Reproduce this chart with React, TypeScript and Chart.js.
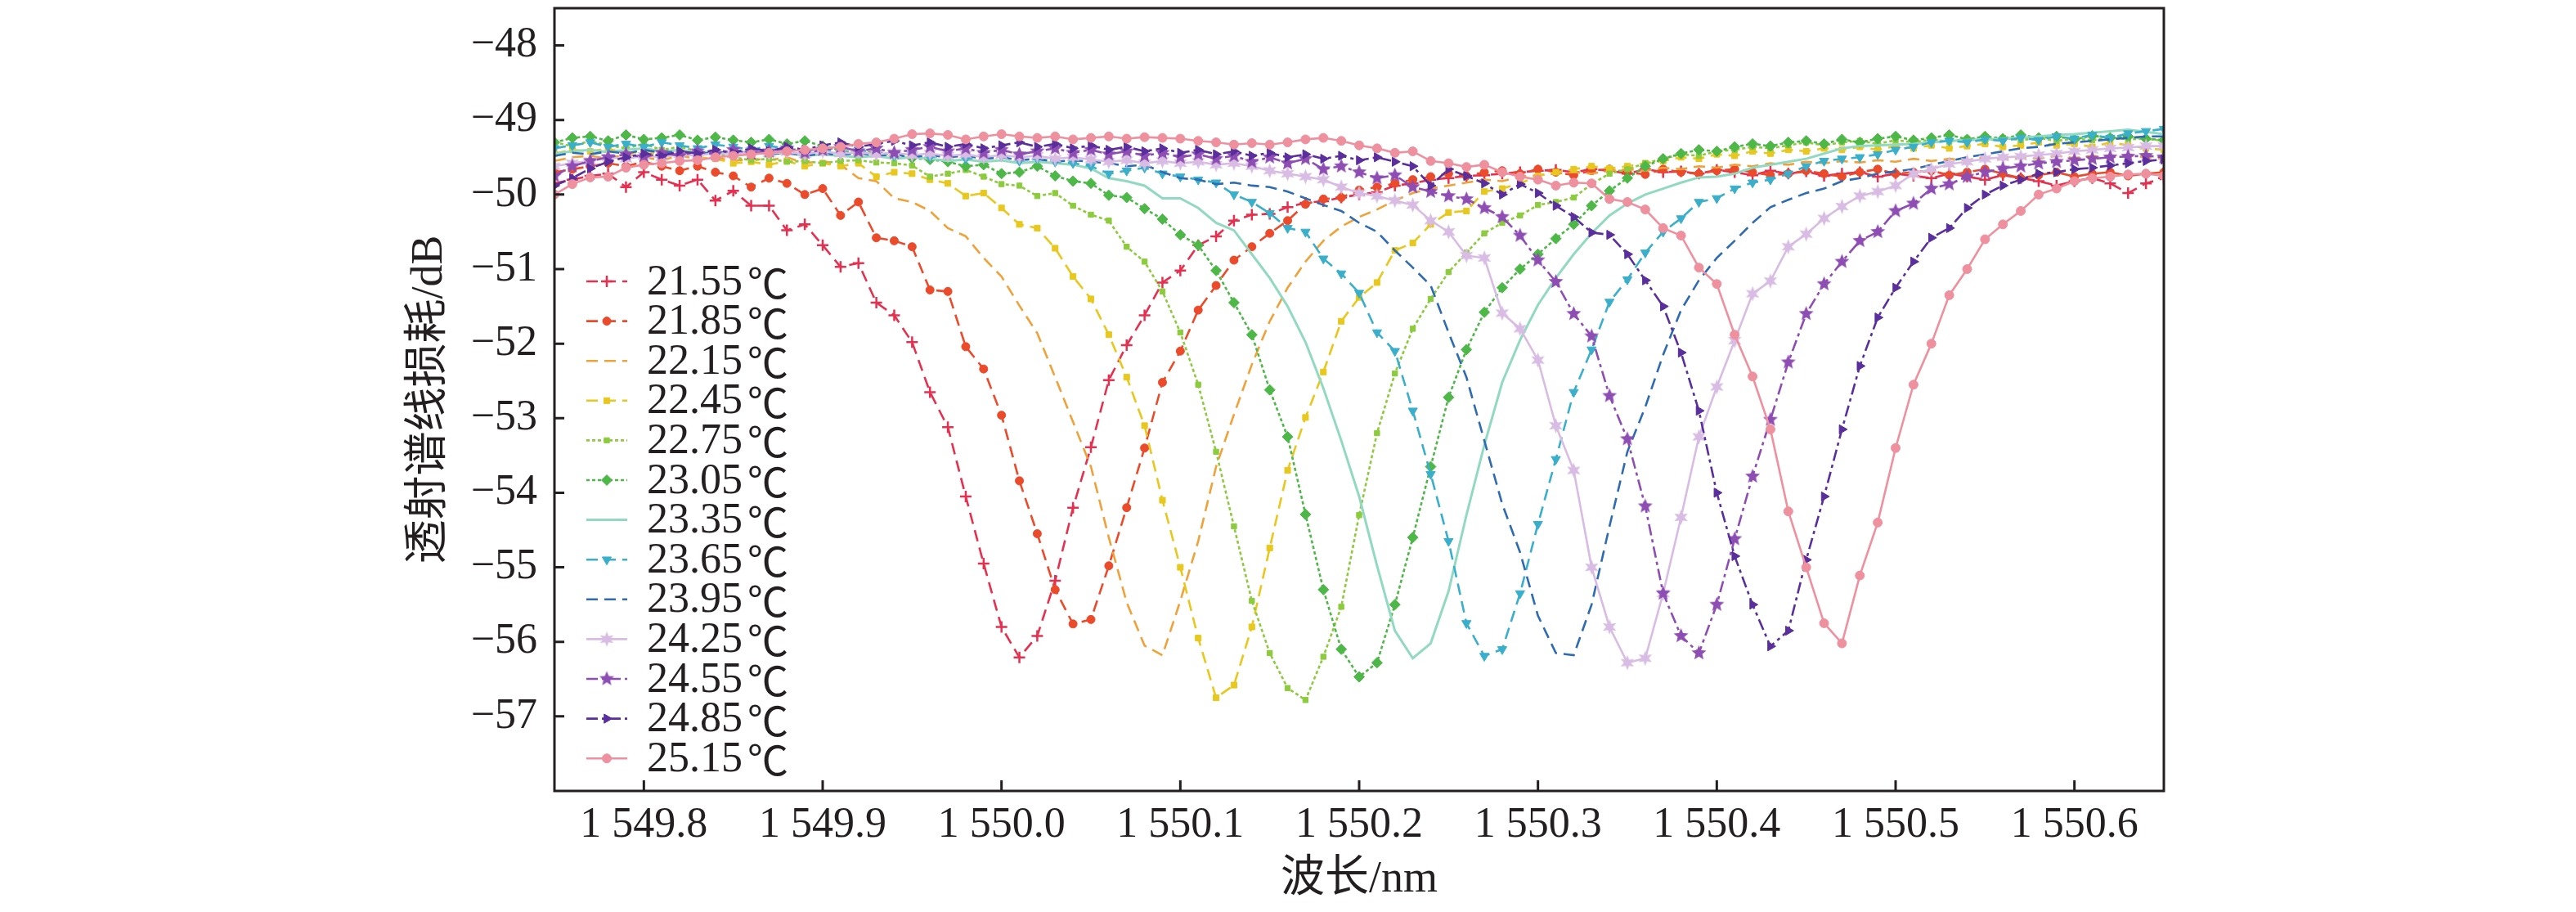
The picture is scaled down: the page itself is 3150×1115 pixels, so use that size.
import { useEffect, useRef } from "react";
import { Chart, registerables } from "chart.js";
import { drawPoint } from "chart.js/helpers";

Chart.register(...registerables);

// wavelength grid (nm), one value every 0.01 nm
const wavelengths = [
  1549.75, 1549.76, 1549.77, 1549.78, 1549.79, 1549.8, 1549.81, 1549.82, 1549.83, 1549.84,
  1549.85, 1549.86, 1549.87, 1549.88, 1549.89, 1549.9, 1549.91, 1549.92, 1549.93, 1549.94,
  1549.95, 1549.96, 1549.97, 1549.98, 1549.99, 1550.0, 1550.01, 1550.02, 1550.03, 1550.04,
  1550.05, 1550.06, 1550.07, 1550.08, 1550.09, 1550.1, 1550.11, 1550.12, 1550.13, 1550.14,
  1550.15, 1550.16, 1550.17, 1550.18, 1550.19, 1550.2, 1550.21, 1550.22, 1550.23, 1550.24,
  1550.25, 1550.26, 1550.27, 1550.28, 1550.29, 1550.3, 1550.31, 1550.32, 1550.33, 1550.34,
  1550.35, 1550.36, 1550.37, 1550.38, 1550.39, 1550.4, 1550.41, 1550.42, 1550.43, 1550.44,
  1550.45, 1550.46, 1550.47, 1550.48, 1550.49, 1550.5, 1550.51, 1550.52, 1550.53, 1550.54,
  1550.55, 1550.56, 1550.57, 1550.58, 1550.59, 1550.6, 1550.61, 1550.62, 1550.63, 1550.64,
  1550.65,
];

const temperatures = [
  "21.55", "21.85", "22.15", "22.45", "22.75", "23.05", "23.35",
  "23.65", "23.95", "24.25", "24.55", "24.85", "25.15",
];
const tempUnit = "℃";

// transmission loss (dB) per temperature
const t2155 = [
  -49.85, -49.8, -49.75, -49.72, -49.9, -49.7, -49.8, -49.88, -49.8, -50.08,
  -49.95, -50.15, -50.15, -50.48, -50.4, -50.68, -50.97, -50.92, -51.45, -51.62,
  -51.98, -52.65, -53.12, -54.05, -54.95, -55.8, -56.21, -55.92, -55.18, -54.2,
  -53.39, -52.49, -52.02, -51.62, -51.18, -51.02, -50.68, -50.56, -50.35, -50.27,
  -50.26, -50.17, -50.11, -50.09, -50.04, -50.0, -49.97, -49.88, -49.85, -49.8,
  -49.78, -49.75, -49.74, -49.72, -49.7, -49.68, -49.67, -49.7, -49.66, -49.68,
  -49.72, -49.66, -49.7, -49.69, -49.72, -49.67, -49.7, -49.74, -49.68, -49.72,
  -49.69, -49.75, -49.72, -49.7, -49.76, -49.72, -49.75, -49.78, -49.72, -49.76,
  -49.8, -49.74, -49.78, -49.82, -49.88, -49.82, -49.78, -49.85, -49.98, -49.85,
  -49.78,
];
const t2185 = [
  -49.7, -49.66, -49.62, -49.58, -49.62, -49.56, -49.62, -49.68, -49.62, -49.7,
  -49.75, -49.9, -49.78, -49.85, -50.0, -49.92, -50.28, -50.1, -50.58, -50.62,
  -50.7, -51.28, -51.3, -52.04, -52.34, -52.96, -53.84, -54.55, -55.3, -55.76,
  -55.7, -54.98, -54.2, -53.4, -52.52, -52.1, -51.55, -51.22, -50.88, -50.7,
  -50.52, -50.35, -50.13, -50.06, -50.04, -49.94, -49.9, -49.85, -49.8, -49.76,
  -49.72, -49.75, -49.7, -49.68, -49.72, -49.66, -49.7, -49.74, -49.68, -49.66,
  -49.7, -49.73, -49.66, -49.7, -49.72, -49.68, -49.66, -49.7, -49.74, -49.72,
  -49.68, -49.72, -49.76, -49.7, -49.66, -49.72, -49.7, -49.68, -49.74, -49.7,
  -49.66, -49.72, -49.78, -49.74, -49.7, -49.76, -49.72, -49.7, -49.75, -49.72,
  -49.7,
];
const t2215 = [
  -49.55, -49.5, -49.48, -49.52, -49.46, -49.5, -49.54, -49.48, -49.52, -49.5,
  -49.55, -49.52, -49.54, -49.5, -49.58, -49.55, -49.6, -49.78, -49.82, -50.05,
  -50.1, -50.22, -50.45, -50.56, -50.85, -51.1, -51.49, -51.86, -52.45, -53.05,
  -53.65, -54.6, -55.47, -56.05, -56.18, -55.45, -54.65, -53.65, -52.95, -52.28,
  -51.7, -51.25, -50.9, -50.62, -50.43, -50.3, -50.2, -50.08, -49.98, -49.92,
  -49.88, -49.84, -49.8, -49.82, -49.76, -49.74, -49.72, -49.7, -49.72, -49.68,
  -49.66, -49.68, -49.64, -49.66, -49.62, -49.64, -49.6, -49.62, -49.58, -49.6,
  -49.56, -49.58, -49.55, -49.57, -49.54, -49.56, -49.52, -49.55, -49.52, -49.54,
  -49.5, -49.53, -49.5, -49.52, -49.48, -49.51, -49.48, -49.5, -49.47, -49.5,
  -49.52,
];
const t2245 = [
  -49.45, -49.4, -49.42, -49.38, -49.45, -49.42, -49.48, -49.45, -49.5, -49.52,
  -49.58, -49.56, -49.6, -49.55, -49.62, -49.58, -49.62, -49.58, -49.76, -49.7,
  -49.72, -49.8, -49.85, -50.02, -49.98, -50.18, -50.4, -50.45, -50.72, -51.1,
  -51.4, -51.88, -52.45, -53.1, -54.1, -55.0, -55.95, -56.75, -56.58, -55.8,
  -54.74, -53.7, -52.99, -52.38, -51.7, -51.38, -51.18, -50.75, -50.65, -50.4,
  -50.24, -50.22, -49.96, -49.92, -49.85, -49.75, -49.7, -49.66, -49.62, -49.65,
  -49.62, -49.58, -49.55, -49.5, -49.52, -49.46, -49.48, -49.42, -49.45, -49.4,
  -49.42, -49.38, -49.4, -49.36, -49.4, -49.35, -49.38, -49.34, -49.38, -49.35,
  -49.32, -49.36, -49.34, -49.3, -49.34, -49.32, -49.36, -49.3, -49.34, -49.38,
  -49.4,
];
const t2275 = [
  -49.3, -49.35, -49.28, -49.34, -49.38, -49.32, -49.4, -49.36, -49.42, -49.45,
  -49.5, -49.54, -49.52, -49.56, -49.55, -49.58, -49.55, -49.54, -49.57, -49.58,
  -49.61, -49.76, -49.72, -49.67, -49.76, -49.86, -49.88, -50.02, -49.98, -50.15,
  -50.27, -50.35, -50.7, -50.9, -51.3, -51.85, -52.55, -53.45, -54.45, -55.45,
  -56.15, -56.62, -56.78, -56.2, -55.53, -54.3, -53.2, -52.4, -51.8, -51.4,
  -51.04, -50.78, -50.52, -50.38, -50.28, -50.14, -50.1, -50.04, -49.86, -49.72,
  -49.66, -49.58, -49.52, -49.46, -49.48, -49.42, -49.4, -49.36, -49.38, -49.34,
  -49.3, -49.34, -49.3, -49.28, -49.32, -49.27, -49.3, -49.26, -49.29, -49.25,
  -49.28, -49.24, -49.27, -49.24, -49.28, -49.25, -49.27, -49.23, -49.26, -49.25,
  -49.28,
];
const t2305 = [
  -49.3, -49.24, -49.22, -49.28, -49.2, -49.26, -49.24, -49.2, -49.27, -49.23,
  -49.27, -49.3, -49.26, -49.32, -49.28, -49.35, -49.4, -49.45, -49.42, -49.48,
  -49.51, -49.53, -49.56, -49.62, -49.6, -49.72, -49.7, -49.62, -49.75, -49.82,
  -49.85, -50.01, -50.04, -50.19, -50.33, -50.54, -50.68, -51.02, -51.45, -51.88,
  -52.62, -53.25, -54.29, -55.3, -56.1, -56.47, -56.28, -55.5, -54.6, -53.65,
  -52.72, -52.08, -51.58, -51.25, -51.0, -50.8, -50.59, -50.4, -50.15, -49.95,
  -49.78, -49.62, -49.52, -49.45, -49.4, -49.42, -49.36, -49.32, -49.35, -49.3,
  -49.28, -49.32, -49.26, -49.3, -49.25, -49.22, -49.27, -49.24, -49.2, -49.26,
  -49.22, -49.25, -49.2, -49.24, -49.22, -49.26, -49.21, -49.24, -49.22, -49.25,
  -49.27,
];
const t2335 = [
  -49.45, -49.42, -49.4, -49.43, -49.4, -49.38, -49.42, -49.4, -49.44, -49.42,
  -49.45, -49.43, -49.46, -49.44, -49.48, -49.46, -49.48, -49.5, -49.48, -49.52,
  -49.5, -49.52, -49.55, -49.53, -49.56, -49.54, -49.58, -49.56, -49.58, -49.6,
  -49.65, -49.78, -49.82, -49.88, -50.05, -50.05, -50.18, -50.38, -50.48, -50.8,
  -51.12, -51.5, -51.98, -52.6, -53.3, -54.05, -54.98, -55.85, -56.22, -56.02,
  -55.32, -54.3, -53.36, -52.52, -51.95, -51.48, -51.12, -50.8, -50.52, -50.28,
  -50.12, -50.0, -49.92, -49.84, -49.77, -49.76, -49.72, -49.64, -49.6, -49.56,
  -49.52, -49.45, -49.38, -49.35, -49.34, -49.33, -49.32, -49.3, -49.28, -49.27,
  -49.26, -49.25, -49.24, -49.22, -49.2, -49.19, -49.17, -49.15, -49.13, -49.16,
  -49.19,
];
const t2365 = [
  -49.38, -49.34, -49.3, -49.36, -49.32, -49.36, -49.3, -49.34, -49.38, -49.33,
  -49.36, -49.4, -49.35, -49.38, -49.42, -49.38, -49.45, -49.4, -49.44, -49.48,
  -49.45, -49.5, -49.47, -49.52, -49.5, -49.48, -49.55, -49.52, -49.56, -49.58,
  -49.62, -49.72, -49.68, -49.64, -49.72, -49.76, -49.8, -49.84, -50.0, -50.1,
  -50.25, -50.45, -50.5, -50.86, -51.06, -51.32, -51.85, -52.1, -52.9, -53.75,
  -54.65, -55.75, -56.19, -56.1, -55.35, -54.42, -53.55, -52.65, -52.08, -51.44,
  -51.14, -50.78, -50.5, -50.32, -50.1, -50.05, -49.92, -49.84, -49.8, -49.72,
  -49.62, -49.55, -49.52, -49.5, -49.46, -49.4, -49.36, -49.3, -49.28, -49.3,
  -49.26, -49.28, -49.24, -49.27, -49.22, -49.25, -49.2, -49.24, -49.18, -49.15,
  -49.12,
];
const t2395 = [
  -49.48, -49.44, -49.46, -49.42, -49.45, -49.4, -49.44, -49.42, -49.46, -49.43,
  -49.45, -49.42, -49.46, -49.44, -49.48, -49.45, -49.47, -49.44, -49.48, -49.46,
  -49.5, -49.47, -49.5, -49.48, -49.52, -49.5, -49.54, -49.52, -49.56, -49.54,
  -49.56, -49.58, -49.62, -49.6, -49.7, -49.78, -49.8, -49.86, -49.84, -49.88,
  -49.9, -49.96, -50.05, -50.14, -50.22, -50.38, -50.5, -50.75, -50.98, -51.22,
  -51.85, -52.45, -53.3, -54.15, -54.8, -55.65, -56.15, -56.18, -55.5, -54.45,
  -53.45, -52.85, -52.15, -51.55, -51.15, -50.85, -50.62, -50.38, -50.17, -50.07,
  -49.98, -49.92, -49.82, -49.78, -49.72, -49.69, -49.66, -49.6, -49.55, -49.5,
  -49.46, -49.42, -49.38, -49.36, -49.32, -49.3, -49.28, -49.26, -49.24, -49.22,
  -49.22,
];
const t2425 = [
  -49.62, -49.58, -49.55, -49.5, -49.52, -49.48, -49.5, -49.46, -49.48, -49.44,
  -49.46, -49.42, -49.45, -49.43, -49.46, -49.42, -49.45, -49.43, -49.46, -49.44,
  -49.47, -49.45, -49.48, -49.46, -49.5, -49.47, -49.5, -49.48, -49.52, -49.5,
  -49.53, -49.56, -49.54, -49.58, -49.55, -49.58, -49.56, -49.6, -49.58, -49.62,
  -49.68, -49.72, -49.76, -49.8, -49.9, -49.98, -50.02, -50.08, -50.14, -50.35,
  -50.5, -50.82, -50.85, -51.59, -51.8, -52.22, -53.1, -53.7, -55.0, -55.8,
  -56.28, -56.22, -55.35, -54.33, -53.25, -52.58, -51.96, -51.33, -51.16, -50.7,
  -50.53, -50.32, -50.16, -50.02, -49.96, -49.88, -49.72, -49.66, -49.59, -49.56,
  -49.52, -49.5, -49.49, -49.47, -49.45, -49.42, -49.4, -49.38, -49.37, -49.35,
  -49.35,
];
const t2455 = [
  -49.75, -49.62, -49.55, -49.5, -49.46, -49.5, -49.44, -49.48, -49.42, -49.46,
  -49.4, -49.45, -49.42, -49.38, -49.44, -49.4, -49.36, -49.42, -49.38, -49.44,
  -49.4, -49.36, -49.42, -49.38, -49.44, -49.4, -49.46, -49.42, -49.38, -49.44,
  -49.4, -49.46, -49.42, -49.48, -49.44, -49.5, -49.46, -49.52, -49.48, -49.56,
  -49.5, -49.58, -49.52, -49.66, -49.62, -49.7, -49.78, -49.74, -49.9, -49.96,
  -50.02, -50.06, -50.18, -50.3, -50.55, -50.88, -51.17, -51.6, -51.9, -52.7,
  -53.28, -54.18, -55.35, -55.92, -56.15, -55.5, -54.62, -53.78, -53.02, -52.25,
  -51.6, -51.2, -50.9, -50.62, -50.5, -50.22, -50.12, -49.92, -49.86, -49.76,
  -49.7, -49.65, -49.62, -49.58, -49.56, -49.54, -49.52, -49.5, -49.49, -49.48,
  -49.5,
];
const t2485 = [
  -49.88, -49.78, -49.65, -49.56, -49.5, -49.45, -49.48, -49.42, -49.45, -49.4,
  -49.44, -49.38, -49.42, -49.36, -49.4, -49.34, -49.3, -49.36, -49.32, -49.28,
  -49.34, -49.3, -49.36, -49.32, -49.38, -49.34, -49.3, -49.36, -49.32, -49.38,
  -49.34, -49.4, -49.36, -49.42, -49.38, -49.44, -49.4, -49.46, -49.42, -49.48,
  -49.44, -49.5, -49.46, -49.52, -49.48, -49.54, -49.5, -49.56, -49.62, -49.88,
  -49.66, -49.75, -49.85, -50.0, -49.86, -49.98, -50.15, -50.3, -50.51, -50.54,
  -50.8, -51.15, -51.5, -52.12, -52.9, -54.0, -54.85, -55.5, -56.06, -55.85,
  -54.9, -54.05, -53.15, -52.3, -51.65, -51.25, -50.9, -50.58, -50.45, -50.18,
  -50.0, -49.88, -49.8, -49.72, -49.7, -49.66, -49.64, -49.61, -49.58, -49.55,
  -49.53,
];
const t2515 = [
  -50.0, -49.86, -49.77, -49.76, -49.64, -49.6, -49.58, -49.55, -49.54, -49.5,
  -49.48, -49.46, -49.44, -49.42, -49.4, -49.38, -49.36, -49.32, -49.3, -49.25,
  -49.19, -49.18, -49.2, -49.26, -49.22, -49.19, -49.22, -49.24, -49.22, -49.26,
  -49.24, -49.22, -49.25, -49.23, -49.24, -49.25, -49.28, -49.3, -49.33, -49.31,
  -49.33, -49.3, -49.26, -49.24, -49.28, -49.34, -49.38, -49.44, -49.42, -49.55,
  -49.58, -49.63, -49.6, -49.7, -49.76, -49.8, -49.88, -49.84, -49.85, -50.06,
  -50.1, -50.2, -50.45, -50.55, -50.98, -51.2, -51.88, -52.44, -53.15, -54.25,
  -55.0, -55.75, -56.02, -55.11, -54.4, -53.4, -52.55, -52.0, -51.35, -51.0,
  -50.6, -50.4, -50.22, -50.0, -49.92, -49.82, -49.78, -49.76, -49.73, -49.72,
  -49.75,
];

const series = [
  t2155, t2185, t2215, t2245, t2275, t2305, t2335,
  t2365, t2395, t2425, t2455, t2485, t2515,
];

const xTickValues = [1549.8, 1549.9, 1550.0, 1550.1, 1550.2, 1550.3, 1550.4, 1550.5, 1550.6];
const xTickLabels = ["1 549.8", "1 549.9", "1 550.0", "1 550.1", "1 550.2", "1 550.3", "1 550.4", "1 550.5", "1 550.6"];
const yTickValues = [-57, -56, -55, -54, -53, -52, -51, -50, -49, -48];
const yTickLabels = ["−57", "−56", "−55", "−54", "−53", "−52", "−51", "−50", "−49", "−48"];

const INK = "#231f20";
const SERIF = '"Liberation Serif", "Times New Roman", serif';
const TITLE_FONT = '"Liberation Serif", "Noto Sans CJK SC", serif';
const CJK = '"Noto Sans CJK SC", sans-serif';

type Look = {
  color: string;
  dash: number[];
  point: string | false;
  radius: number;
  rotation?: number;
};

const DASH = [14, 8];
const DOT = [4, 3];
const DASHDOT = [14, 5, 4, 5];

const looks: Look[] = [
  { color: "#e5304f", dash: DASH, point: "cross", radius: 7 },
  { color: "#eb4a2b", dash: DASH, point: "circle", radius: 5 },
  { color: "#f0a23a", dash: DASH, point: false, radius: 0 },
  { color: "#e8c81e", dash: DASH, point: "rect", radius: 5 },
  { color: "#8dcb3e", dash: DOT, point: "rect", radius: 4.5 },
  { color: "#4db847", dash: DOT, point: "rectRot", radius: 6.5 },
  { color: "#92d9c2", dash: [], point: false, radius: 0 },
  { color: "#3aafcb", dash: DASH, point: "triangle", radius: 6.5, rotation: 180 },
  { color: "#2e6bb3", dash: DASH, point: false, radius: 0 },
  { color: "#d8bce3", dash: [], point: "star6", radius: 9 },
  { color: "#8e4db3", dash: DASHDOT, point: "star5", radius: 9 },
  { color: "#5a2e9c", dash: DASHDOT, point: "triangle", radius: 6.5, rotation: 90 },
  { color: "#ef909f", dash: [], point: "circle", radius: 5.5 },
];

function makeStar(color: string, r: number, tips: number) {
  const c = document.createElement("canvas");
  const s = Math.ceil(r * 2 + 2);
  c.width = s;
  c.height = s;
  const g = c.getContext("2d")!;
  g.fillStyle = color;
  g.beginPath();
  for (let k = 0; k < tips * 2; k++) {
    const a = -Math.PI / 2 + (k * Math.PI) / tips;
    const rr = k % 2 === 0 ? r : r * 0.45;
    g.lineTo(s / 2 + rr * Math.cos(a), s / 2 + rr * Math.sin(a));
  }
  g.closePath();
  g.fill();
  return c;
}

const axisDecor = {
  id: "axisDecor",
  afterDraw(chart: any) {
    const { ctx, chartArea: a, scales } = chart;
    ctx.save();
    ctx.strokeStyle = INK;
    ctx.lineWidth = 3;
    ctx.setLineDash([]);
    ctx.beginPath();
    for (const v of xTickValues) {
      const x = scales.x.getPixelForValue(v);
      ctx.moveTo(x, a.bottom);
      ctx.lineTo(x, a.bottom - 13);
    }
    for (const v of yTickValues) {
      const y = scales.y.getPixelForValue(v);
      ctx.moveTo(a.left, y);
      ctx.lineTo(a.left + 12, y);
    }
    ctx.stroke();
    ctx.strokeRect(a.left, a.top, a.right - a.left, a.bottom - a.top);

    // legend inside the plot, lower left
    const x0 = a.left + 39;
    const x1 = a.left + 89;
    const xm = (x0 + x1) / 2;
    chart.data.datasets.forEach((ds: any, i: number) => {
      const y = a.top + 334 + i * 48.6;
      ctx.strokeStyle = ds.borderColor;
      ctx.lineWidth = ds.borderWidth;
      ctx.setLineDash(ds.borderDash || []);
      ctx.beginPath();
      ctx.moveTo(x0, y);
      ctx.lineTo(x1, y);
      ctx.stroke();
      ctx.setLineDash([]);
      if (ds.pointRadius > 0) {
        ctx.fillStyle = ds.borderColor;
        ctx.strokeStyle = ds.borderColor;
        ctx.lineWidth = ds.pointBorderWidth;
        drawPoint(
          ctx,
          {
            pointStyle: ds.pointStyle,
            rotation: ds.pointRotation || 0,
            radius: ds.pointRadius,
            borderWidth: ds.pointBorderWidth,
          },
          xm,
          y
        );
      }
      ctx.fillStyle = INK;
      ctx.textAlign = "left";
      ctx.textBaseline = "middle";
      ctx.font = `52px ${SERIF}`;
      const tx = x1 + 24;
      ctx.fillText(ds.label, tx, y + 2);
      const w = ctx.measureText(ds.label).width;
      ctx.font = `50px ${CJK}`;
      ctx.fillText(tempUnit, tx + w + 6, y + 2);
    });
    ctx.restore();
  },
};

export default function App() {
  const canvasRef = useRef<HTMLCanvasElement | null>(null);
  const chartRef = useRef<Chart | null>(null);

  useEffect(() => {
    if (!canvasRef.current) return;
    chartRef.current?.destroy();

    const stars: Record<string, HTMLCanvasElement> = {
      star5: makeStar(looks[10].color, 9.5, 5),
      star6: makeStar(looks[9].color, 9.5, 6),
    };

    const datasets = series.map((vals, i) => {
      const lk = looks[i];
      const style = lk.point && stars[lk.point] ? stars[lk.point] : lk.point || "circle";
      return {
        label: temperatures[i],
        data: vals.map((v, j) => ({ x: wavelengths[j], y: v })),
        borderColor: lk.color,
        backgroundColor: lk.color,
        borderWidth: i === 6 ? 3 : 2.6,
        borderDash: lk.dash,
        pointStyle: style,
        pointRadius: lk.radius,
        pointRotation: lk.rotation || 0,
        pointBorderWidth: lk.point === "cross" ? 2.5 : 1,
        pointBackgroundColor: lk.color,
        pointBorderColor: lk.color,
        pointHoverRadius: lk.radius,
        tension: 0,
        order: -i,
      };
    });

    chartRef.current = new Chart(canvasRef.current, {
      type: "line",
      data: { datasets },
      plugins: [axisDecor],
      options: {
        animation: false,
        responsive: false,
        layout: { padding: { top: 2, right: 504, left: 0, bottom: 0 } },
        plugins: { legend: { display: false }, tooltip: { enabled: false } },
        scales: {
          x: {
            type: "linear",
            min: 1549.75,
            max: 1550.65,
            afterBuildTicks: (s: any) => {
              s.ticks = xTickValues.map((value) => ({ value }));
            },
            afterFit: (s: any) => {
              s.height = 148;
              s.paddingLeft = 0;
              s.paddingRight = 0;
            },
            ticks: {
              callback: (_v: any, i: number) => xTickLabels[i],
              font: { family: SERIF, size: 52 },
              color: INK,
              padding: 11,
              maxRotation: 0,
              autoSkip: false,
            },
            grid: { display: false, drawTicks: false },
            border: { display: false },
            title: {
              display: true,
              text: "波长/nm",
              font: { family: TITLE_FONT, size: 54 },
              color: INK,
              padding: { top: 0, bottom: 7 },
            },
          },
          y: {
            type: "linear",
            min: -58,
            max: -47.5,
            afterBuildTicks: (s: any) => {
              s.ticks = yTickValues.map((value) => ({ value }));
            },
            afterFit: (s: any) => {
              s.width = 678;
              s.paddingTop = 0;
              s.paddingBottom = 0;
            },
            ticks: {
              callback: (_v: any, i: number) => yTickLabels[i],
              font: { family: SERIF, size: 52 },
              color: INK,
              padding: 21,
              autoSkip: false,
            },
            grid: { display: false, drawTicks: false },
            border: { display: false },
            title: {
              display: true,
              text: "透射谱线损耗/dB",
              font: { family: TITLE_FONT, size: 54 },
              color: INK,
              padding: { top: 493, bottom: 0 },
            },
          },
        },
      },
    } as any);

    return () => {
      chartRef.current?.destroy();
      chartRef.current = null;
    };
  }, []);

  return (
    <div
      style={{
        position: "fixed",
        left: 0,
        top: 0,
        width: 3150,
        height: 1115,
        background: "#fff",
      }}
    >
      <canvas ref={canvasRef} width={3150} height={1115} />
    </div>
  );
}
